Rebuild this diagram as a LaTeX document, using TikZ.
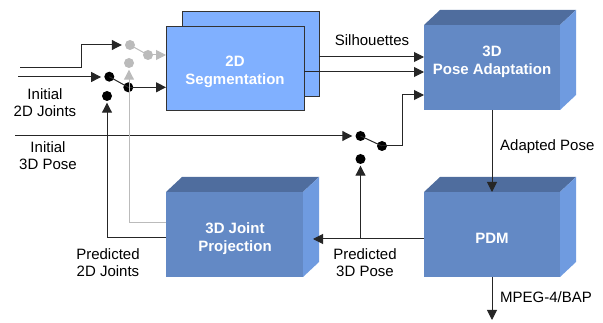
\documentclass[tikz,border=0pt]{standalone}
\usepackage{fontspec}
\setmainfont{Liberation Sans}
\usetikzlibrary{arrows.meta,calc}
\definecolor{segfill}{HTML}{80B0FF}
\definecolor{frontc}{HTML}{6389C5}
\definecolor{topc}{HTML}{4F6D9E}
\definecolor{sidec}{HTML}{6F9BE0}
\definecolor{greyc}{HTML}{BBBBBB}
\tikzset{
 lbl/.style={font=\fontsize{15}{17}\selectfont, align=center, inner sep=0pt, text=black},
 boxtxt/.style={font=\fontsize{15}{18}\selectfont\bfseries, align=center, text=white, inner sep=0pt},
 segbox/.style={draw=black!80, line width=0.9pt, fill=segfill, minimum width=138pt, minimum height=84pt, inner sep=0pt, outer sep=0pt},
 cube/.style={fill=frontc, minimum width=136pt, minimum height=85pt, inner sep=0pt, outer sep=0pt},
 wire/.style={line width=1pt, draw=black!85},
 arr/.style={wire, -{Triangle[length=10pt,width=10pt]}},
 gwire/.style={line width=1pt, draw=greyc},
 garr/.style={gwire, -{Triangle[length=10pt,width=10pt]}},
 dot/.style={circle, fill=black, minimum size=10pt, inner sep=0pt},
 gdot/.style={dot, fill=greyc},
}
\newcommand\cubefaces[1]{%
 \fill[topc] (#1.north west) -- ++(16,-15) -- ($(#1.north east)+(16,-15)$) -- (#1.north east) -- cycle;
 \fill[sidec] (#1.north east) -- ++(16,-15) -- ($(#1.south east)+(16,-15)$) -- (#1.south east) -- cycle;}
\begin{document}
\begin{tikzpicture}[x=1pt,y=-1pt]
\useasboundingbox (0,0) rectangle (603,323);
% 2D segmentation (stacked)
\node[segbox, minimum width=137pt, minimum height=85pt] (segback) at (250.5,53.5) {};
\node[segbox] (seg) at (235,68) {};
\node[boxtxt] (segt) at (235,72) {2D\\Segmentation};
% cubes
\node[cube] (pa) at (492,67.5) {};
\cubefaces{pa}
\node[boxtxt] (pat) at (492,62) {3D\\Pose Adaptation};
\node[cube, minimum width=137pt] (jp) at (234.5,234.5) {};
\cubefaces{jp}
\node[boxtxt] (jpt) at (235,239) {3D Joint\\Projection};
\node[cube] (pdm) at (492,234.5) {};
\cubefaces{pdm}
\node[boxtxt] (pdmt) at (492,238) {PDM};
% silhouettes
\draw[arr] ([yshift=-3.5pt]segback.east) coordinate (s1) -- (s1 -| pa.west);
\draw[arr] ([yshift=-4pt]seg.east) coordinate (s2) -- (s2 -| pa.west);
\node[lbl] (silh) at (372,40) {Silhouettes};
% switch for 3D pose
\node[dot] (c2a) at (360.5,136) {};
\node[dot] (c2b) at (382,146) {};
\node[dot] (c2c) at (360.5,159) {};
\coordinate (ip3) at (15,136);
\draw[arr] (ip3) -- ([xshift=-3pt]c2a.west);
\draw[wire] (c2a.center) -- (c2b.center);
\draw[arr] (c2b.center) -- ++(20,0) |- ([yshift=-27.5pt]pa.west);
% switch for 2D joints
\node[dot] (c1a) at (109.3,76.7) {};
\node[dot] (c1b) at (128.3,87.3) {};
\node[dot] (c1c) at (107,96) {};
\coordinate (ij2) at (18,77);
\draw[arr] (ij2) -- ([xshift=-3pt]c1a.west |- ij2);
\draw[wire] (c1a.center) -- (c1b.center);
\draw[arr] (c1b.center) -- (c1b.center -| seg.west);
% grey switch
\node[gdot] (g1a) at (130,45) {};
\node[gdot] (g1b) at (148,55) {};
\node[gdot] (g1c) at (129,63) {};
\coordinate (ig) at (20,67.5);
\draw[arr] (ig) -- ++(61,0) |- ([xshift=-3pt]g1a.west);
\draw[gwire] (g1a.center) -- (g1b.center);
\draw[garr] (g1b.center) -- (g1b.center -| seg.west);
% feedback from joint projection
\draw[arr] ([yshift=-3.5pt]jp.west) -| ([yshift=-1.5pt]c1c.south);
\draw[garr] ([yshift=11.5pt]jp.west) -| ([yshift=-1.5pt]g1c.south);
% PA -> PDM
\draw[arr] (pa.south) -- (pdm.north);
\node[lbl, anchor=west] (adp) at (500,147) {Adapted Pose};
% PDM out
\coordinate (mp) at (492,320);
\draw[arr] (pdm.south) -- (mp);
\node[lbl, anchor=west] (mpeg) at (500,297) {MPEG-4/BAP};
% PDM -> JP, branch to switch
\draw[arr] ([yshift=-4.5pt]pdm.west) coordinate (p1) -- ($(p1 -| jp.east)+(10,0)$);
\draw[arr] (p1 -| c2c) -- ([yshift=-1.5pt]c2c.south);
% labels
\node[lbl] (l2d) at (45,102.5) {Initial\\2D Joints};
\node[lbl] (l3d) at (48,155.5) {Initial\\3D Pose};
\node[lbl] (lp2) at (108,262.5) {Predicted\\2D Joints};
\node[lbl] (lp3) at (365,262.5) {Predicted\\3D Pose};
\end{tikzpicture}
\end{document}
